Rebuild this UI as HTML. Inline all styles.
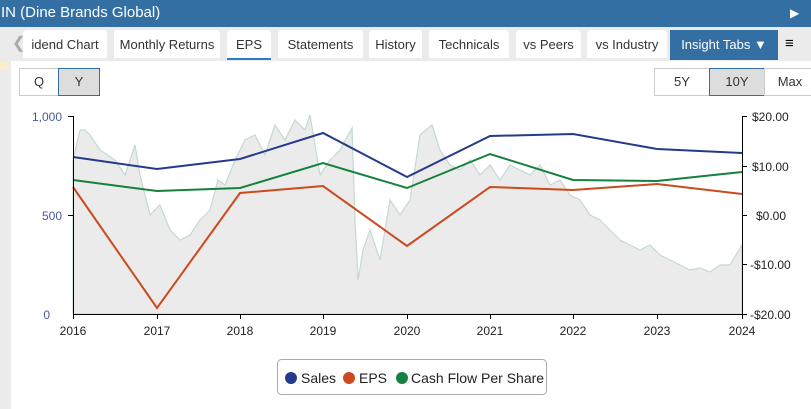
<!DOCTYPE html>
<html><head><style>
body{margin:0;width:811px;height:409px;overflow:hidden;background:#fff;font-family:"Liberation Sans",sans-serif;position:relative}
.hdr{position:absolute;left:0;top:0;width:811px;height:27px;background:#336fa3;color:#fff;font-size:15px;line-height:26px}
.tabbar{position:absolute;left:0;top:27px;width:811px;height:34px;background:#ebebeb}
.tab{position:absolute;top:3px;height:28px;background:#fff;border-radius:4px 4px 0 0;font-size:13px;line-height:30px;text-align:center;color:#333}
.btn{position:absolute;border:1px solid #ccc;font-size:13px;text-align:center;line-height:26px;color:#333;height:26px;top:68px}
</style></head><body>
<div class="hdr"><span style="margin-left:1px">IN (Dine Brands Global)</span>
<span style="position:absolute;left:790px;top:0;font-size:12px">▶</span></div>
<div class="tabbar">
<span style="position:absolute;left:12px;top:6px;color:#aaa;font-size:16px">❮</span>
<div class="tab" style="left:23px;width:84px">idend Chart</div>
<div class="tab" style="left:114px;width:106px">Monthly Returns</div>
<div class="tab" style="left:227px;width:44px;border-bottom:2px solid #2a7ad2">EPS</div>
<div class="tab" style="left:278px;width:85px">Statements</div>
<div class="tab" style="left:369px;width:53px">History</div>
<div class="tab" style="left:429px;width:80px">Technicals</div>
<div class="tab" style="left:516px;width:65px">vs Peers</div>
<div class="tab" style="left:587px;width:80px">vs Industry</div>
<div style="position:absolute;left:670px;top:3px;width:108px;height:30px;background:#336fa3;color:#fff;font-size:13px;line-height:30px;text-align:center">Insight Tabs ▼</div>
<div style="position:absolute;left:785px;top:8px;font-size:15px">≡</div>
</div>
<div style="position:absolute;left:0;top:61px;width:11px;height:348px;background:#ebebeb"></div>
<div style="position:absolute;left:0;top:61px;width:8px;height:9px;background:#fbefc6"></div>
<div class="btn" style="left:19px;width:38px">Q</div>
<div class="btn" style="left:58px;width:40px;background:#ddd;border-color:#336fa3">Y</div>
<div class="btn" style="left:654px;width:54px">5Y</div>
<div class="btn" style="left:709px;width:54px;background:#ddd;border-color:#336fa3">10Y</div>
<div class="btn" style="left:764px;width:50px">Max</div>
<svg style="position:absolute;left:0;top:0" width="811" height="409">
<path d="M73,160 L80,130 L85,130 L90,135 L100,150 L115,160 L125,175 L135,145 L140,175 L150,215 L160,205 L170,230 L180,240 L190,235 L200,220 L210,210 L218,180 L225,185 L235,160 L245,140 L255,135 L265,155 L275,125 L285,140 L295,120 L305,130 L310,115 L320,175 L330,160 L340,150 L352,128 L355,220 L358,280 L363,250 L370,230 L380,260 L390,200 L400,215 L410,200 L420,135 L432,125 L440,150 L450,165 L460,170 L470,160 L480,175 L490,165 L500,180 L510,165 L520,170 L530,175 L540,165 L550,185 L560,180 L570,195 L580,200 L590,215 L600,220 L610,230 L620,240 L630,245 L640,250 L650,245 L660,255 L670,260 L680,265 L690,270 L700,268 L710,272 L720,265 L730,265 L742,245 L742,314 L73,314Z" fill="#ebebeb" stroke="#c5d8d3" stroke-width="1.2"/>
<g fill="none" stroke-width="2">
<polyline stroke="#253a8a" points="73,157 157,169 240,159 323,133 407,177 490,136 573,134 657,149 742,153"/>
<polyline stroke="#16803e" points="73,180 157,191 240,188 323,163 407,188 490,154 573,180 657,181 742,172"/>
<polyline stroke="#cc4a1d" points="73,187 157,308 240,193 323,186 407,246 490,187 573,190 657,184 742,194"/>
</g>
<g stroke="#000" stroke-width="1">
<line x1="73.5" y1="116" x2="73.5" y2="314"/><line x1="73" y1="314.5" x2="742" y2="314.5"/>
<line x1="742.5" y1="116" x2="742.5" y2="314"/>
<line x1="68" y1="116.5" x2="73" y2="116.5"/><line x1="68" y1="215.5" x2="73" y2="215.5"/>
<line x1="742" y1="116.5" x2="747" y2="116.5"/><line x1="742" y1="166.5" x2="747" y2="166.5"/><line x1="742" y1="215.5" x2="747" y2="215.5"/><line x1="742" y1="264.5" x2="747" y2="264.5"/><line x1="742" y1="314.5" x2="747" y2="314.5"/>
<line x1="157.5" y1="314" x2="157.5" y2="319"/><line x1="240.5" y1="314" x2="240.5" y2="319"/><line x1="323.5" y1="314" x2="323.5" y2="319"/><line x1="407.5" y1="314" x2="407.5" y2="319"/><line x1="490.5" y1="314" x2="490.5" y2="319"/><line x1="573.5" y1="314" x2="573.5" y2="319"/><line x1="657.5" y1="314" x2="657.5" y2="319"/><line x1="73.5" y1="314" x2="73.5" y2="319"/><line x1="742.5" y1="314" x2="742.5" y2="319"/>
</g>
<g font-size="12" fill="#4a5a9a" text-anchor="end" font-family="Liberation Sans">
<text x="62" y="121">1,000</text><text x="62" y="220">500</text><text x="50" y="319">0</text></g>
<g font-size="12" fill="#222" font-family="Liberation Sans">
<text x="752" y="121">$20.00</text><text x="752" y="171">$10.00</text><text x="756" y="220">$0.00</text><text x="750" y="269">-$10.00</text><text x="750" y="319">-$20.00</text>
<g text-anchor="middle"><text x="73" y="335">2016</text><text x="157" y="335">2017</text><text x="240" y="335">2018</text><text x="323" y="335">2019</text><text x="407" y="335">2020</text><text x="490" y="335">2021</text><text x="573" y="335">2022</text><text x="657" y="335">2023</text><text x="742" y="335">2024</text></g></g>
<rect x="277.5" y="359.5" width="269" height="35" rx="4" fill="#fff" stroke="#aaa"/>
<g font-size="14" fill="#222" font-family="Liberation Sans">
<circle cx="291" cy="378" r="6" fill="#253a8a"/><text x="301" y="383">Sales</text>
<circle cx="349" cy="378" r="6" fill="#cc4a1d"/><text x="359" y="383">EPS</text>
<circle cx="402" cy="378" r="6" fill="#16803e"/><text x="411" y="383">Cash Flow Per Share</text></g>
</svg>
</body></html>
